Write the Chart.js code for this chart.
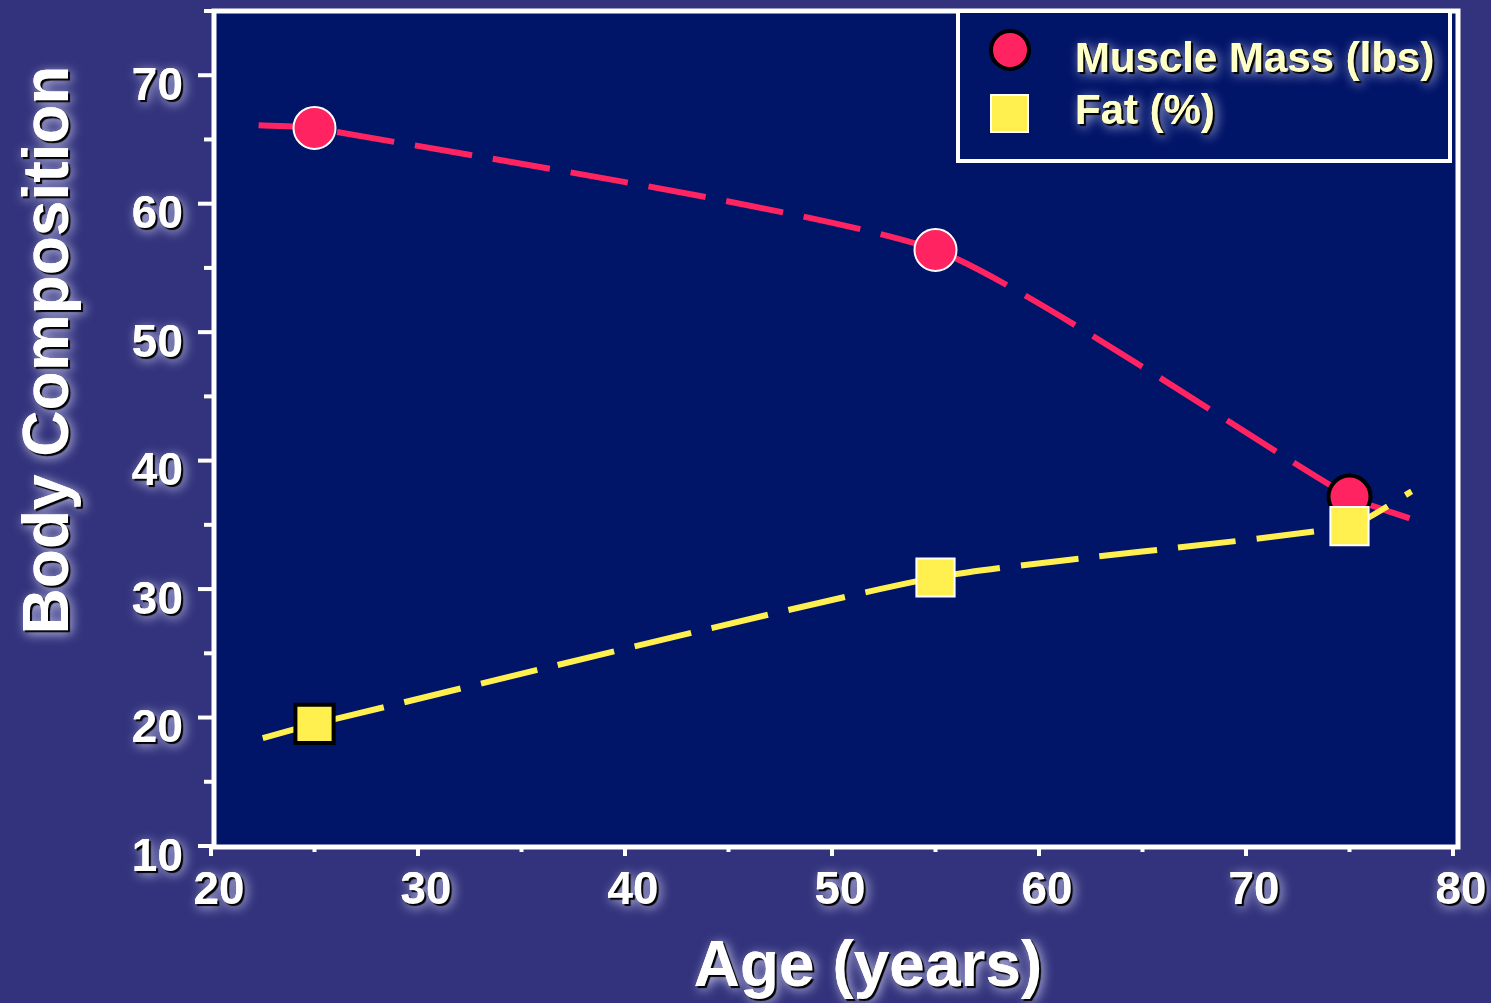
<!DOCTYPE html>
<html>
<head>
<meta charset="utf-8">
<script src="https://cdn.jsdelivr.net/npm/chart.js@4.4.1/dist/chart.umd.min.js"></script>
<style>
html, body { margin: 0; padding: 0; background: #33337d; }
#wrap { width: 1491px; height: 1003px; }
</style>
</head>
<body>
<div id="wrap"><canvas id="bodyChart"></canvas></div>
<script>
// values
var muscleAges = [22.3, 25, 55, 75, 77.9];
var muscleMass = [66.1, 65.9, 56.4, 37.2, 35.5];
var fatAges = [22.5, 25, 55, 75, 78];
var fatPct = [18.4, 19.5, 30.9, 34.9, 37.6];
var xTicks = [20, 30, 40, 50, 60, 70, 80];
var yTicks = [10, 20, 30, 40, 50, 60, 70];
var seriesNames = ['Muscle Mass (lbs)', 'Fat (%)'];

var RED = '#ff2461';
var YELLOW = '#fff04f';
var NAVY = '#001468';
var OUTER = '#33337d';
var FONT = '"Liberation Sans", Arial, sans-serif';

function toPoints(xs, ys) {
    return xs.map(function(x, i) { return { x: x, y: ys[i] }; });
}

function shadowText(ctx, txt, x, y, color) {
    ctx.save();
    ctx.fillStyle = color;
    // soft light glow
    ctx.shadowColor = 'rgba(225,225,255,0.9)';
    ctx.shadowBlur = 12;
    ctx.shadowOffsetX = 3;
    ctx.shadowOffsetY = 3;
    ctx.fillText(txt, x, y);
    // hard dark drop shadow
    ctx.shadowColor = '#000';
    ctx.shadowBlur = 1;
    ctx.shadowOffsetX = 2;
    ctx.shadowOffsetY = 2;
    ctx.fillText(txt, x, y);
    ctx.restore();
}

var slidePlugin = {
    id: 'slide',
    beforeDraw: function(chart) {
        var ctx = chart.ctx, ca = chart.chartArea;
        ctx.save();
        ctx.fillStyle = OUTER;
        ctx.fillRect(0, 0, chart.width, chart.height);
        ctx.fillStyle = NAVY;
        ctx.fillRect(ca.left + 3, ca.top, ca.right - ca.left, ca.bottom - ca.top);
        ctx.restore();
    },
    beforeDatasetsDraw: function(chart) {
        var ctx = chart.ctx, ca = chart.chartArea;
        var xs = chart.scales.x, ys = chart.scales.y;
        ctx.save();
        ctx.strokeStyle = '#fff';
        ctx.lineWidth = 5;
        ctx.strokeRect(ca.left + 3, ca.top, ca.right - ca.left + 2, ca.bottom - ca.top + 1);

        // y ticks (major + minor)
        ctx.lineWidth = 4;
        for (var v = 10; v <= 75; v += 5) {
            var py = ys.getPixelForValue(v);
            var len = (v % 10 === 0) ? 13 : 7;
            ctx.beginPath();
            ctx.moveTo(ca.left - len, py);
            ctx.lineTo(ca.left + 1, py);
            ctx.stroke();
        }
        // x ticks
        for (var u = 20; u <= 80; u += 5) {
            var px = xs.getPixelForValue(u);
            var l2 = (u % 10 === 0) ? 10 : 6;
            ctx.beginPath();
            ctx.moveTo(px, ca.bottom);
            ctx.lineTo(px, ca.bottom + l2);
            ctx.stroke();
        }
        ctx.restore();
    },
    afterDraw: function(chart) {
        var ctx = chart.ctx, ca = chart.chartArea;
        var xs = chart.scales.x, ys = chart.scales.y;
        ctx.save();
        ctx.font = 'bold 46px ' + FONT;
        ctx.textBaseline = 'middle';
        ctx.textAlign = 'right';
        yTicks.forEach(function(t) {
            shadowText(ctx, String(t), ca.left - 28, ys.getPixelForValue(t) + 12, '#fff');
        });
        ctx.textAlign = 'center';
        xTicks.forEach(function(t) {
            shadowText(ctx, String(t), xs.getPixelForValue(t) + 8, ca.bottom + 45, '#fff');
        });

        // axis titles
        ctx.font = 'bold 64px ' + FONT;
        ctx.textBaseline = 'alphabetic';
        shadowText(ctx, 'Age (years)', 868, 986, '#fff');
        ctx.save();
        ctx.translate(68, 350);
        ctx.rotate(-Math.PI / 2);
        ctx.font = 'bold 64px ' + FONT;
        shadowText(ctx, 'Body Composition', 0, 0, '#fff');
        ctx.restore();

        // legend box
        var bx = 958, by = ca.top, bw = ca.right - 3 - bx, bh = 150;
        ctx.fillStyle = NAVY;
        ctx.fillRect(bx, by, bw, bh);
        ctx.strokeStyle = '#fff';
        ctx.lineWidth = 4;
        ctx.strokeRect(bx, by, bw, bh);

        ctx.beginPath();
        ctx.arc(1010, 50, 19, 0, Math.PI * 2);
        ctx.fillStyle = RED;
        ctx.fill();
        ctx.strokeStyle = '#000';
        ctx.lineWidth = 4;
        ctx.stroke();

        ctx.fillStyle = YELLOW;
        ctx.fillRect(991, 95, 37, 37);
        ctx.strokeStyle = '#fff';
        ctx.lineWidth = 2;
        ctx.strokeRect(991, 95, 37, 37);

        ctx.font = 'bold 42px ' + FONT;
        ctx.textAlign = 'left';
        ctx.textBaseline = 'middle';
        shadowText(ctx, seriesNames[0], 1075, 60, '#ffffc8');
        shadowText(ctx, seriesNames[1], 1075, 112, '#ffffc8');
        ctx.restore();
    }
};

var ctx = document.getElementById('bodyChart').getContext('2d');
var bodyChart = new Chart(ctx, {
    type: 'line',
    data: {
        datasets: [{
            label: seriesNames[0],
            data: toPoints(muscleAges, muscleMass),
            borderColor: RED,
            borderWidth: 6,
            borderDash: [58, 21],
            tension: 0.18,
            pointStyle: 'circle',
            pointRadius: [0, 21, 21, 21, 0],
            pointBackgroundColor: RED,
            pointBorderColor: ['#fff', '#fff', '#fff', '#000', '#fff'],
            pointBorderWidth: [0, 2, 2, 4, 0],
            order: 1
        }, {
            label: seriesNames[1],
            data: toPoints(fatAges, fatPct),
            borderColor: YELLOW,
            borderWidth: 6,
            borderDash: [58, 21],
            borderDashOffset: 12,
            tension: 0.18,
            pointStyle: 'rect',
            pointRadius: [0, 27, 27, 27, 0],
            pointBackgroundColor: YELLOW,
            pointBorderColor: ['#000', '#000', '#fff', '#fff', '#000'],
            pointBorderWidth: [0, 4, 2, 2, 0],
            order: 0
        }]
    },
    options: {
        responsive: true,
        maintainAspectRatio: false,
        animation: false,
        events: [],
        clip: false,
        layout: { padding: { left: 211, right: 38, top: 11, bottom: 157 } },
        plugins: { legend: { display: false }, tooltip: { enabled: false } },
        scales: {
            x: {
                type: 'linear', min: 20, max: 80,
                grid: { display: false }, border: { display: false },
                ticks: { display: false },
                afterFit: function(s) { s.height = 0; }
            },
            y: {
                type: 'linear', min: 10, max: 75,
                grid: { display: false }, border: { display: false },
                ticks: { display: false },
                afterFit: function(s) { s.width = 0; }
            }
        }
    },
    plugins: [slidePlugin]
});
</script>
</body>
</html>
